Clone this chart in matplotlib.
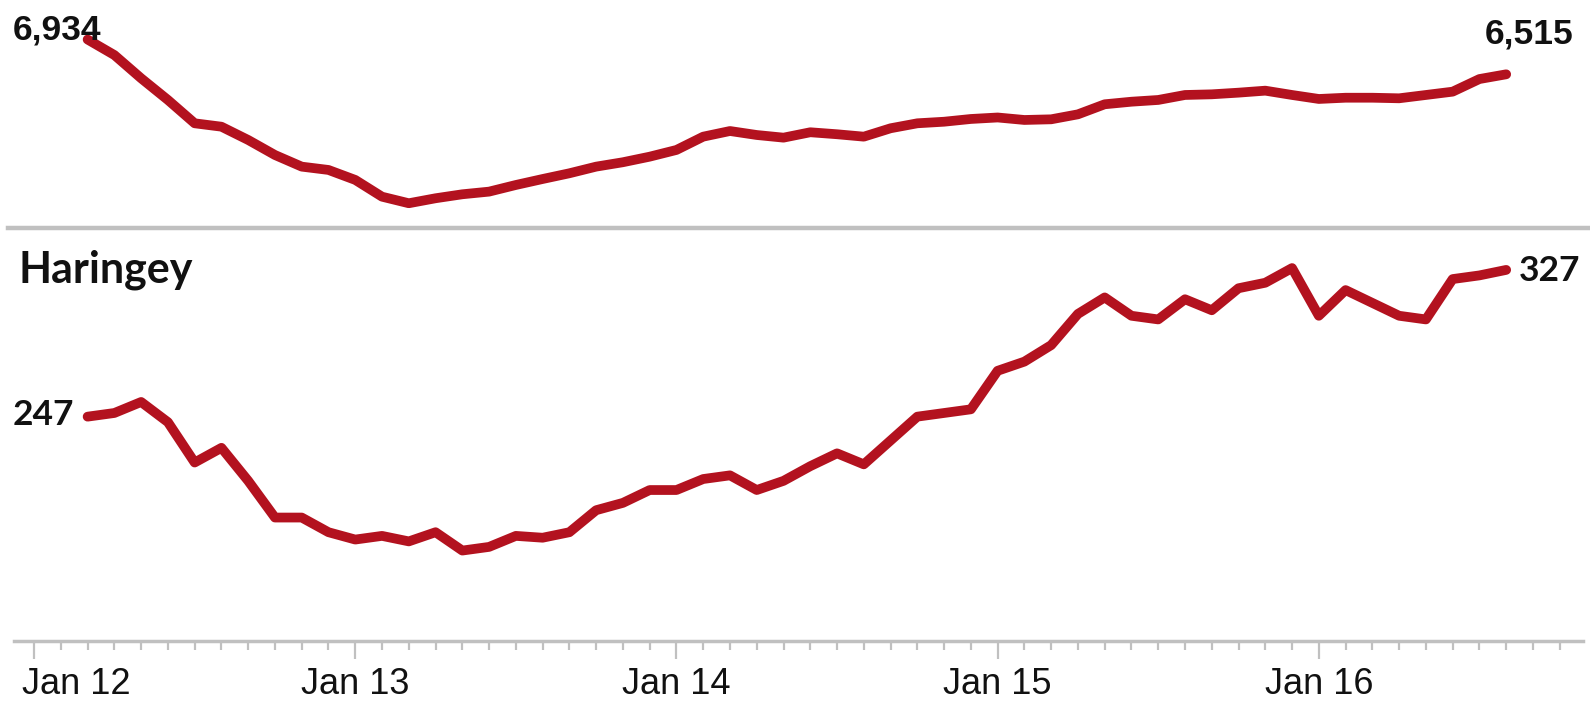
import pandas as pd
import matplotlib.pyplot as plt
from matplotlib.lines import Line2D
from matplotlib.transforms import ScaledTranslation

# monthly series, Mar 2012 - Aug 2016
months = pd.date_range('2012-03-01', '2016-08-01', freq='MS')

total = [6934, 6747, 6467, 6206, 5925, 5884, 5724, 5543, 5403, 5363,
         5243, 5041, 4962, 5022, 5070, 5102, 5182, 5254, 5323, 5403, 5456, 5523,
         5604, 5764, 5832, 5784, 5752, 5817, 5793, 5764, 5865, 5925, 5944, 5977,
         5995, 5965, 5973, 6033, 6154, 6185, 6206, 6266, 6274, 6294, 6318, 6266,
         6218, 6233, 6233, 6226, 6266, 6306, 6458, 6515]

haringey = [247, 249, 255, 244, 222, 230, 212, 192, 192, 184,
            180, 182, 179, 184, 174, 176, 182, 181, 184, 196, 200, 207,
            207, 213, 215, 207, 212, 220, 227, 221, 234, 247, 249, 251,
            272, 277, 286, 303, 312, 302, 300, 311, 305, 317, 320, 328,
            302, 316, 309, 302, 300, 322, 324, 327]

area_name = 'Haringey'
year_labels = ['Jan 12', 'Jan 13', 'Jan 14', 'Jan 15', 'Jan 16']

# months counted from Jan 2012
x = [(d.year - 2012) * 12 + d.month - 1 for d in months]

RED = '#B3121F'
GREY = '#C0C0C0'
INK = '#111111'

W, H = 1590, 704
fig = plt.figure(figsize=(W / 100, H / 100), dpi=100)

def px_box(left, top, right, bottom):
    return [left / W, 1 - bottom / H, (right - left) / W, (bottom - top) / H]

ax_top = fig.add_axes(px_box(14, 0, 1583, 225))
ax_bot = fig.add_axes(px_box(14, 240, 1583, 641))

line_kw = dict(color=RED, lw=7, solid_capstyle='round', solid_joinstyle='round')
ax_top.plot(x, total, **line_kw)
ax_bot.plot(x, haringey, **line_kw)

for ax in (ax_top, ax_bot):
    ax.set_xlim(-0.75, 57.87)
    for s in ax.spines.values():
        s.set_visible(False)
    ax.set_yticks([])

ax_top.set_ylim(4700, 7410)
ax_top.set_xticks([])
ax_bot.set_ylim(124.7, 343.3)

# bottom axis: yearly labels, monthly minor ticks
ax_bot.spines['bottom'].set_visible(True)
ax_bot.spines['bottom'].set_color(GREY)
ax_bot.spines['bottom'].set_linewidth(2.5)
ax_bot.set_xticks([0, 12, 24, 36, 48])
ax_bot.set_xticklabels(year_labels)
ax_bot.set_xticks([m for m in range(58) if m % 12], minor=True)
ax_bot.tick_params(axis='x', which='major', length=13, width=1.6, color=GREY,
                   pad=6, labelsize=26, labelcolor=INK)
ax_bot.tick_params(axis='x', which='minor', length=6.5, width=1.6, color=GREY)
for lab in ax_bot.get_xticklabels():
    lab.set_family('Liberation Sans')
first = ax_bot.get_xticklabels()[0]
first.set_horizontalalignment('left')
first.set_transform(first.get_transform() + ScaledTranslation(-12 / 100, 0, fig.dpi_scale_trans))

# grey divider between the two panels
fig.add_artist(Line2D([8 / W, 1], [1 - 228 / H] * 2, color=GREY, lw=3.2))

# start / end value labels
arial = dict(family='Liberation Sans', weight='bold', size=25.5, color=INK)
lato = dict(family='Lato', weight='bold', size=25.5, color=INK)
ax_top.annotate(f'{total[0]:,}', (x[0], total[0]), xytext=(14, 0), textcoords='offset pixels',
                ha='right', va='baseline', **arial)
ax_top.annotate(f'{total[-1]:,}', (x[-1], total[-1]), xytext=(-21, 31), textcoords='offset pixels',
                ha='left', va='baseline', **arial)
ax_bot.annotate(f'{haringey[0]:,}', (x[0], haringey[0]), xytext=(-13, -8), textcoords='offset pixels',
                ha='right', va='baseline', **lato)
ax_bot.annotate(f'{haringey[-1]:,}', (x[-1], haringey[-1]), xytext=(13, -11), textcoords='offset pixels',
                ha='left', va='baseline', **lato)

fig.text(18 / W, 1 - 282 / H, area_name, ha='left', va='baseline',
         family='Lato', weight='bold', size=31, color=INK)

fig.savefig('out.png', dpi=100)
